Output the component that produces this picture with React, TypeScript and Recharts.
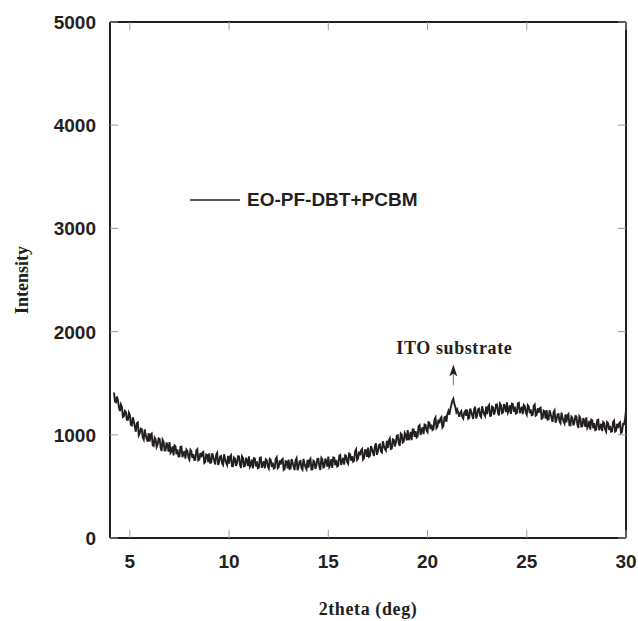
import React from 'react';
import {
  LineChart,
  Line,
  XAxis,
  YAxis,
  Legend,
  ReferenceLine,
  Label,
} from 'recharts';

// XRD scan, sampled every 0.05 deg starting at 4.2 deg
const angleStart = 4.2;
const angleStep = 0.05;

// intensities, one row per degree
const intensity: number[] = [
  1410, 1323, 1315, 1372, 1335, 1265, 1230, 1295, 1270, 1173, 1180, 1232, 1220, 1145, 1145, 1215,
  1195, 1095, 1090, 1170, 1130, 1077, 1030, 1112, 1120, 995, 1015, 1060, 1055, 977, 955, 1052, 1000, 959, 933, 1017,
  935, 1000, 1010, 899, 893, 972, 957, 881, 905, 965, 961, 876, 842, 952, 933, 849, 850, 926, 897, 837,
  930, 826, 842, 888, 800, 897, 889, 811, 858, 790, 791, 883, 885, 783, 815, 842, 770, 858, 845, 782,
  760, 853, 841, 774, 812, 755, 758, 846, 859, 752, 760, 823, 782, 825, 834, 727, 736, 810, 803, 736,
  820, 729, 732, 821, 790, 748, 712, 806, 825, 709, 737, 791, 795, 723, 707, 811, 765, 729, 707, 796,
  720, 789, 803, 697, 696, 780, 769, 698, 727, 791, 790, 709, 678, 792, 776, 695, 699, 778, 752, 697,
  792, 691, 711, 760, 675, 774, 769, 693, 743, 677, 682, 776, 781, 680, 715, 744, 674, 763, 753, 692,
  672, 766, 756, 690, 730, 674, 679, 768, 783, 677, 687, 751, 711, 756, 766, 660, 670, 745, 740, 675,
  760, 669, 674, 764, 734, 693, 658, 753, 773, 657, 687, 742, 747, 677, 662, 767, 722, 687, 667, 757,
  682, 752, 768, 663, 664, 749, 740, 670, 701, 767, 768, 689, 660, 776, 762, 683, 689, 770, 746, 692,
  788, 690, 711, 763, 680, 781, 778, 705, 757, 693, 700, 798, 805, 707, 745, 777, 710, 802, 795, 737,
  720, 818, 811, 749, 792, 740, 748, 841, 859, 757, 770, 838, 801, 849, 862, 760, 773, 851, 849, 787,
  875, 788, 797, 890, 864, 827, 796, 894, 918, 806, 840, 898, 907, 840, 829, 937, 896, 864, 848, 941,
  870, 944, 964, 863, 868, 957, 952, 886, 921, 990, 995, 919, 893, 1012, 1001, 925, 934, 1018, 997, 946,
  1045, 949, 974, 1028, 948, 1052, 1052, 981, 1036, 975, 985, 1084, 1094, 998, 1038, 1072, 1007, 1101, 1096, 1040,
  1025, 1123, 1117, 1055, 1099, 1047, 1056, 1149, 1168, 1066, 1080, 1148, 1111, 1159, 1172, 1071, 1085, 1170, 1175, 1125,
  1200, 1230, 1195, 1250, 1290, 1330, 1350, 1300, 1270, 1220, 1245, 1210, 1175, 1215, 1230, 1175, 1158, 1215, 1230, 1185,
  1245, 1156, 1163, 1254, 1226, 1187, 1154, 1250, 1272, 1158, 1190, 1246, 1253, 1184, 1171, 1277, 1234, 1200, 1182, 1273,
  1200, 1271, 1288, 1184, 1186, 1272, 1264, 1195, 1227, 1293, 1295, 1216, 1187, 1303, 1289, 1210, 1216, 1297, 1273, 1219,
  1315, 1215, 1236, 1286, 1202, 1302, 1297, 1222, 1272, 1206, 1211, 1305, 1310, 1209, 1243, 1272, 1201, 1289, 1278, 1216,
  1195, 1288, 1276, 1209, 1247, 1190, 1193, 1281, 1294, 1187, 1195, 1257, 1214, 1256, 1263, 1155, 1162, 1234, 1226, 1158,
  1240, 1147, 1150, 1237, 1205, 1162, 1125, 1217, 1235, 1117, 1145, 1198, 1201, 1129, 1112, 1215, 1168, 1131, 1109, 1197,
  1120, 1188, 1201, 1094, 1092, 1175, 1163, 1091, 1119, 1182, 1180, 1098, 1066, 1179, 1162, 1080, 1083, 1161, 1134, 1077,
  1170, 1068, 1087, 1135, 1049, 1147, 1141, 1064, 1113, 1046, 1050, 1143, 1147, 1045, 1079, 1107, 1036, 1124, 1113, 1051,
  1030, 1124, 1113, 1047, 1086, 1030, 1034, 1123, 1137, 1031, 1040, 1105, 1065, 1110, 1121, 1017, 1028, 1105, 1103, 1150,
  1240,
];

const xTicks = [5, 10, 15, 20, 25, 30];
const yTicks = [0, 1000, 2000, 3000, 4000, 5000];
const seriesName = 'EO-PF-DBT+PCBM';
const peakLabel = 'ITO substrate';
const peakAngle = 21.3;
const arrowFrom = 1480;
const arrowTo = 1680;

const data = intensity.map((v, i) => ({
  angle: +(angleStart + i * angleStep).toFixed(2),
  intensity: v,
}));

const INK = '#231f20';
const TICK = '#9a9a9a';
const sans = '"Liberation Sans", Arial, sans-serif';
const serif = '"Liberation Serif", "Times New Roman", serif';

// ticks point into the plot, labels sit outside
const BottomTick = ({ x, y, payload }: any) => (
  <g>
    <line x1={x} y1={y} x2={x} y2={y - 8} stroke={TICK} />
    <text x={x} y={y + 30} textAnchor="middle" fontFamily={sans} fontWeight="bold" fontSize={19} fill={INK}>
      {payload.value}
    </text>
  </g>
);
const TopTick = ({ x, y }: any) => <line x1={x} y1={y} x2={x} y2={y + 8} stroke={TICK} />;
const LeftTick = ({ x, y, payload }: any) => (
  <g>
    <line x1={x} y1={y} x2={x + 8} y2={y} stroke={TICK} />
    <text x={x - 14} y={y + 7} textAnchor="end" fontFamily={sans} fontWeight="bold" fontSize={19} fill={INK}>
      {payload.value}
    </text>
  </g>
);
const RightTick = ({ x, y }: any) => <line x1={x} y1={y} x2={x - 8} y2={y} stroke={TICK} />;

const LegendBox = ({ payload }: any) => (
  <div style={{ display: 'flex', alignItems: 'center' }}>
    <svg width={52} height={4}>
      <line x1={0} y1={2} x2={50} y2={2} stroke={INK} strokeWidth={1.5} />
    </svg>
    <span style={{ marginLeft: 5, fontFamily: sans, fontWeight: 'bold', fontSize: 19, color: INK }}>
      {payload && payload.length ? payload[0].value : seriesName}
    </span>
  </div>
);

const PeakArrow = (props: any) => {
  const { x1, y1, x2, y2 } = props;
  const tipY = Math.min(y1, y2);
  const baseY = Math.max(y1, y2);
  const x = x1 ?? x2;
  return (
    <g>
      <line x1={x} y1={baseY} x2={x} y2={tipY + 8} stroke="#777" strokeWidth={1} />
      <path
        d={`M${x},${tipY} L${x + 4},${tipY + 12} L${x},${tipY + 9} L${x - 4},${tipY + 12} Z`}
        fill={INK}
      />
      <text x={x + 1} y={tipY - 11} textAnchor="middle" fontFamily={serif} fontWeight="bold" fontSize={18} letterSpacing={0.6} fill={INK}>
        {peakLabel}
      </text>
    </g>
  );
};

export default function App() {
  return (
    <div style={{ position: 'absolute', left: 0, top: 0 }}>
      <LineChart width={638} height={621} data={data} margin={{ top: 21, right: 11, left: 50, bottom: 53 }}>
        <XAxis
          dataKey="angle"
          type="number"
          domain={[4, 30]}
          ticks={xTicks}
          interval={0}
          height={30}
          tickSize={0}
          tickMargin={0}
          tickLine={false}
          tick={BottomTick}
          axisLine={{ stroke: INK, strokeWidth: 2 }}
          allowDataOverflow
        >
          <Label
            value="2theta (deg)"
            position="bottom"
            offset={34}
            style={{ fontFamily: serif, fontWeight: 'bold', fontSize: 18, letterSpacing: 0.6, fill: INK }}
          />
        </XAxis>
        <XAxis
          xAxisId="top"
          orientation="top"
          dataKey="angle"
          type="number"
          domain={[4, 30]}
          ticks={xTicks}
          interval={0}
          height={1}
          tickSize={0}
          tickMargin={0}
          tickLine={false}
          tick={TopTick}
          axisLine={{ stroke: INK, strokeWidth: 2 }}
          allowDataOverflow
        />
        <YAxis
          type="number"
          domain={[0, 5000]}
          ticks={yTicks}
          interval={0}
          width={60}
          tickSize={0}
          tickMargin={0}
          tickLine={false}
          tick={LeftTick}
          axisLine={{ stroke: INK, strokeWidth: 2 }}
          allowDataOverflow
        >
          <Label
            value="Intensity"
            angle={-90}
            position="insideLeft"
            offset={-28}
            style={{ fontFamily: serif, fontWeight: 'bold', fontSize: 18, fill: INK, textAnchor: 'middle' }}
          />
        </YAxis>
        <YAxis
          yAxisId="right"
          orientation="right"
          type="number"
          domain={[0, 5000]}
          ticks={yTicks}
          interval={0}
          width={1}
          tickSize={0}
          tickMargin={0}
          tickLine={false}
          tick={RightTick}
          axisLine={{ stroke: INK, strokeWidth: 2 }}
          allowDataOverflow
        />
        <Legend
          layout="vertical"
          align="center"
          verticalAlign="middle"
          wrapperStyle={{ position: 'absolute', left: 190, top: 189, width: 'auto' }}
          content={LegendBox}
        />
        <ReferenceLine
          segment={[
            { x: peakAngle, y: arrowFrom },
            { x: peakAngle, y: arrowTo },
          ]}
          shape={PeakArrow}
        />
        <Line
          type="linear"
          dataKey="intensity"
          name={seriesName}
          stroke={INK}
          strokeWidth={1.9}
          dot={false}
          isAnimationActive={false}
        />
      </LineChart>
    </div>
  );
}
